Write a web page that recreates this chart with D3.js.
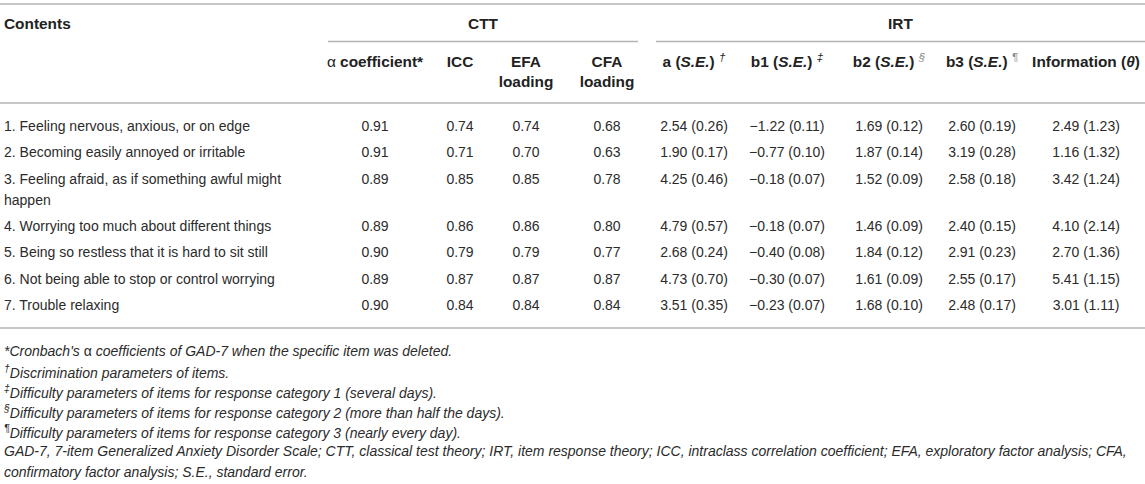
<!DOCTYPE html>
<html>
<head>
<meta charset="utf-8">
<script src="https://cdn.jsdelivr.net/npm/d3@7"></script>
<style>
  html, body { margin: 0; padding: 0; background: #fff; }
  svg { display: block; font-family: "Liberation Sans", Arial, Helvetica, sans-serif; }
</style>
</head>
<body>
<svg id="chart" width="1145" height="484"></svg>
<script>
// ---------------- data ----------------
const contents = [
  "1. Feeling nervous, anxious, or on edge",
  "2. Becoming easily annoyed or irritable",
  "3. Feeling afraid, as if something awful might happen",
  "4. Worrying too much about different things",
  "5. Being so restless that it is hard to sit still",
  "6. Not being able to stop or control worrying",
  "7. Trouble relaxing"
];
const alphaCoef = [0.91, 0.91, 0.89, 0.89, 0.90, 0.89, 0.90];
const iccVals   = [0.74, 0.71, 0.85, 0.86, 0.79, 0.87, 0.84];
const efaVals   = [0.74, 0.70, 0.85, 0.86, 0.79, 0.87, 0.84];
const cfaVals   = [0.68, 0.63, 0.78, 0.80, 0.77, 0.87, 0.84];
const aVals     = [2.54, 1.90, 4.25, 4.79, 2.68, 4.73, 3.51];
const aSE       = [0.26, 0.17, 0.46, 0.57, 0.24, 0.70, 0.35];
const b1Vals    = [-1.22, -0.77, -0.18, -0.18, -0.40, -0.30, -0.23];
const b1SE      = [0.11, 0.10, 0.07, 0.07, 0.08, 0.07, 0.07];
const b2Vals    = [1.69, 1.87, 1.52, 1.46, 1.84, 1.61, 1.68];
const b2SE      = [0.12, 0.14, 0.09, 0.09, 0.12, 0.09, 0.10];
const b3Vals    = [2.60, 3.19, 2.58, 2.40, 2.91, 2.55, 2.48];
const b3SE      = [0.19, 0.28, 0.18, 0.15, 0.23, 0.17, 0.17];
const infoVals  = [2.49, 1.16, 3.42, 4.10, 2.70, 5.41, 3.01];
const infoSE    = [1.23, 1.32, 1.24, 2.14, 1.36, 1.15, 1.11];

const groupLabels = ["CTT", "IRT"];
const colKeys = ["alpha", "icc", "efa", "cfa", "a", "b1", "b2", "b3", "info"];
// header labels: each line is a list of [text, style] parts
const colHeaders = [
  [[["α", "n"], [" coefficient", "b"], ["*", "b"]]],
  [[["ICC", "b"]]],
  [[["EFA", "b"]], [["loading", "b"]]],
  [[["CFA", "b"]], [["loading", "b"]]],
  [[["a (", "b"], ["S.E.", "bi"], [")", "b"], [" ", "b"], ["†", "sup"]]],
  [[["b1 (", "b"], ["S.E.", "bi"], [")", "b"], [" ", "b"], ["‡", "sup"]]],
  [[["b2 (", "b"], ["S.E.", "bi"], [")", "b"], [" ", "b"], ["§", "supg"]]],
  [[["b3 (", "b"], ["S.E.", "bi"], [")", "b"], [" ", "b"], ["¶", "supg"]]],
  [[["Information (", "b"], ["θ", "bi"], [")", "b"]]]
];
const footnotes = [
  [["*", "i"], ["Cronbach's ", "i"], ["α", "n"], [" coefficients of GAD-7 when the specific item was deleted.", "i"]],
  [["†", "sup"], ["Discrimination parameters of items.", "i"]],
  [["‡", "sup"], ["Difficulty parameters of items for response category 1 (several days).", "i"]],
  [["§", "sup"], ["Difficulty parameters of items for response category 2 (more than half the days).", "i"]],
  [["¶", "sup"], ["Difficulty parameters of items for response category 3 (nearly every day).", "i"]],
  [["GAD-7, 7-item Generalized Anxiety Disorder Scale; CTT, classical test theory; IRT, item response theory; ICC, intraclass correlation coefficient; EFA, exploratory factor analysis; CFA,", "i"]],
  [["confirmatory factor analysis; S.E., standard error.", "i"]]
];

// ---------------- layout ----------------
const W = 1145, H = 484;
const textColor = "#2b2b2b";
const headColor = "#222";
const ruleColor = "#b3b3b3";
const bodySize = 14, headSize = 15.4, noteSize = 14;

const svg = d3.select("#chart");
svg.append("rect").attr("width", W).attr("height", H).attr("fill", "#fff");

const colX = d3.scaleOrdinal().domain(colKeys)
  .range([375, 460, 526, 607, 694, 787, 889, 982, 1086]);
const groupSpan = d3.scaleOrdinal().domain(groupLabels)
  .range([[328, 638], [656, 1145]]);

const fmt2 = d3.format(".2f");
const num = v => (v < 0 ? "\u2212" + fmt2(-v) : fmt2(v));
const withSE = (v, se) => num(v) + " (" + fmt2(se) + ")";

function addParts(textSel, parts, size) {
  parts.forEach(([t, s]) => {
    const ts = textSel.append("tspan").text(t);
    if (s === "b") ts.attr("font-weight", "bold");
    if (s === "bi") ts.attr("font-weight", "bold").attr("font-style", "italic");
    if (s === "i") ts.attr("font-style", "italic");
    if (s === "n") ts.attr("font-weight", "normal");
    if (s === "sup" || s === "supg") {
      ts.attr("font-size", size * 0.75).attr("baseline-shift", "super").attr("font-style", "italic");
      if (s === "supg") ts.attr("fill", "#8a8a8a");
    }
  });
}

function rule(y, x1, x2) {
  svg.append("line").attr("x1", x1).attr("x2", x2).attr("y1", y).attr("y2", y)
    .attr("stroke", ruleColor).attr("stroke-width", 1.6);
}

// rules
rule(4, 0, W);
groupLabels.forEach(g => { const [x1, x2] = groupSpan(g); rule(41.5, x1, x2); });
rule(103, 0, W);

// header row 1
svg.append("text").attr("x", 4).attr("y", 28.5).attr("font-size", headSize)
  .attr("font-weight", "bold").attr("fill", headColor).text("Contents");
groupLabels.forEach(g => {
  const [x1, x2] = groupSpan(g);
  svg.append("text").attr("x", (x1 + x2) / 2).attr("y", 28.5).attr("text-anchor", "middle")
    .attr("font-size", headSize).attr("font-weight", "bold").attr("fill", headColor).text(g);
});

// header row 2
const headLine = 20;
colKeys.forEach((k, i) => {
  colHeaders[i].forEach((line, li) => {
    const t = svg.append("text").attr("x", colX(k)).attr("y", 66.5 + li * headLine)
      .attr("text-anchor", "middle").attr("font-size", headSize).attr("fill", headColor);
    addParts(t, line, headSize);
  });
});

// body rows
const bodyG = svg.append("g").attr("font-size", bodySize).attr("fill", textColor);
const maxContentWidth = 300;
const lineH = 21, rowPitch = 26.3, firstRowY = 131;

// wrap content text into lines
const measure = bodyG.append("text").attr("visibility", "hidden");
const wrapped = contents.map(s => {
  const words = s.split(" ");
  const lines = [];
  let cur = "";
  words.forEach(w => {
    const trial = cur ? cur + " " + w : w;
    measure.text(trial);
    if (measure.node().getComputedTextLength() > maxContentWidth && cur) {
      lines.push(cur); cur = w;
    } else cur = trial;
  });
  lines.push(cur);
  return lines;
});
measure.remove();

let acc = 0;
const rowY = wrapped.map((lines, i) => {
  const y = firstRowY + i * rowPitch + acc * lineH;
  acc += lines.length - 1;
  return y;
});

wrapped.forEach((lines, i) => {
  lines.forEach((ln, li) => {
    bodyG.append("text").attr("x", 4).attr("y", rowY[i] + li * lineH).text(ln);
  });
});

const colVals = {
  alpha: alphaCoef.map(fmt2),
  icc: iccVals.map(fmt2),
  efa: efaVals.map(fmt2),
  cfa: cfaVals.map(fmt2),
  a: aVals.map((v, i) => withSE(v, aSE[i])),
  b1: b1Vals.map((v, i) => withSE(v, b1SE[i])),
  b2: b2Vals.map((v, i) => withSE(v, b2SE[i])),
  b3: b3Vals.map((v, i) => withSE(v, b3SE[i])),
  info: infoVals.map((v, i) => withSE(v, infoSE[i]))
};

colKeys.forEach(k => {
  bodyG.selectAll(null).data(colVals[k]).enter().append("text")
    .attr("x", colX(k)).attr("y", (d, i) => rowY[i])
    .attr("text-anchor", "middle").text(d => d);
});

rule(328, 0, W);

// footnotes
const noteY = [356, 378, 398, 418, 438, 456, 477];
const noteG = svg.append("g").attr("font-size", noteSize).attr("fill", textColor);
footnotes.forEach((parts, i) => {
  const t = noteG.append("text").attr("x", 4).attr("y", noteY[i]);
  addParts(t, parts, noteSize);
});
</script>
</body>
</html>
